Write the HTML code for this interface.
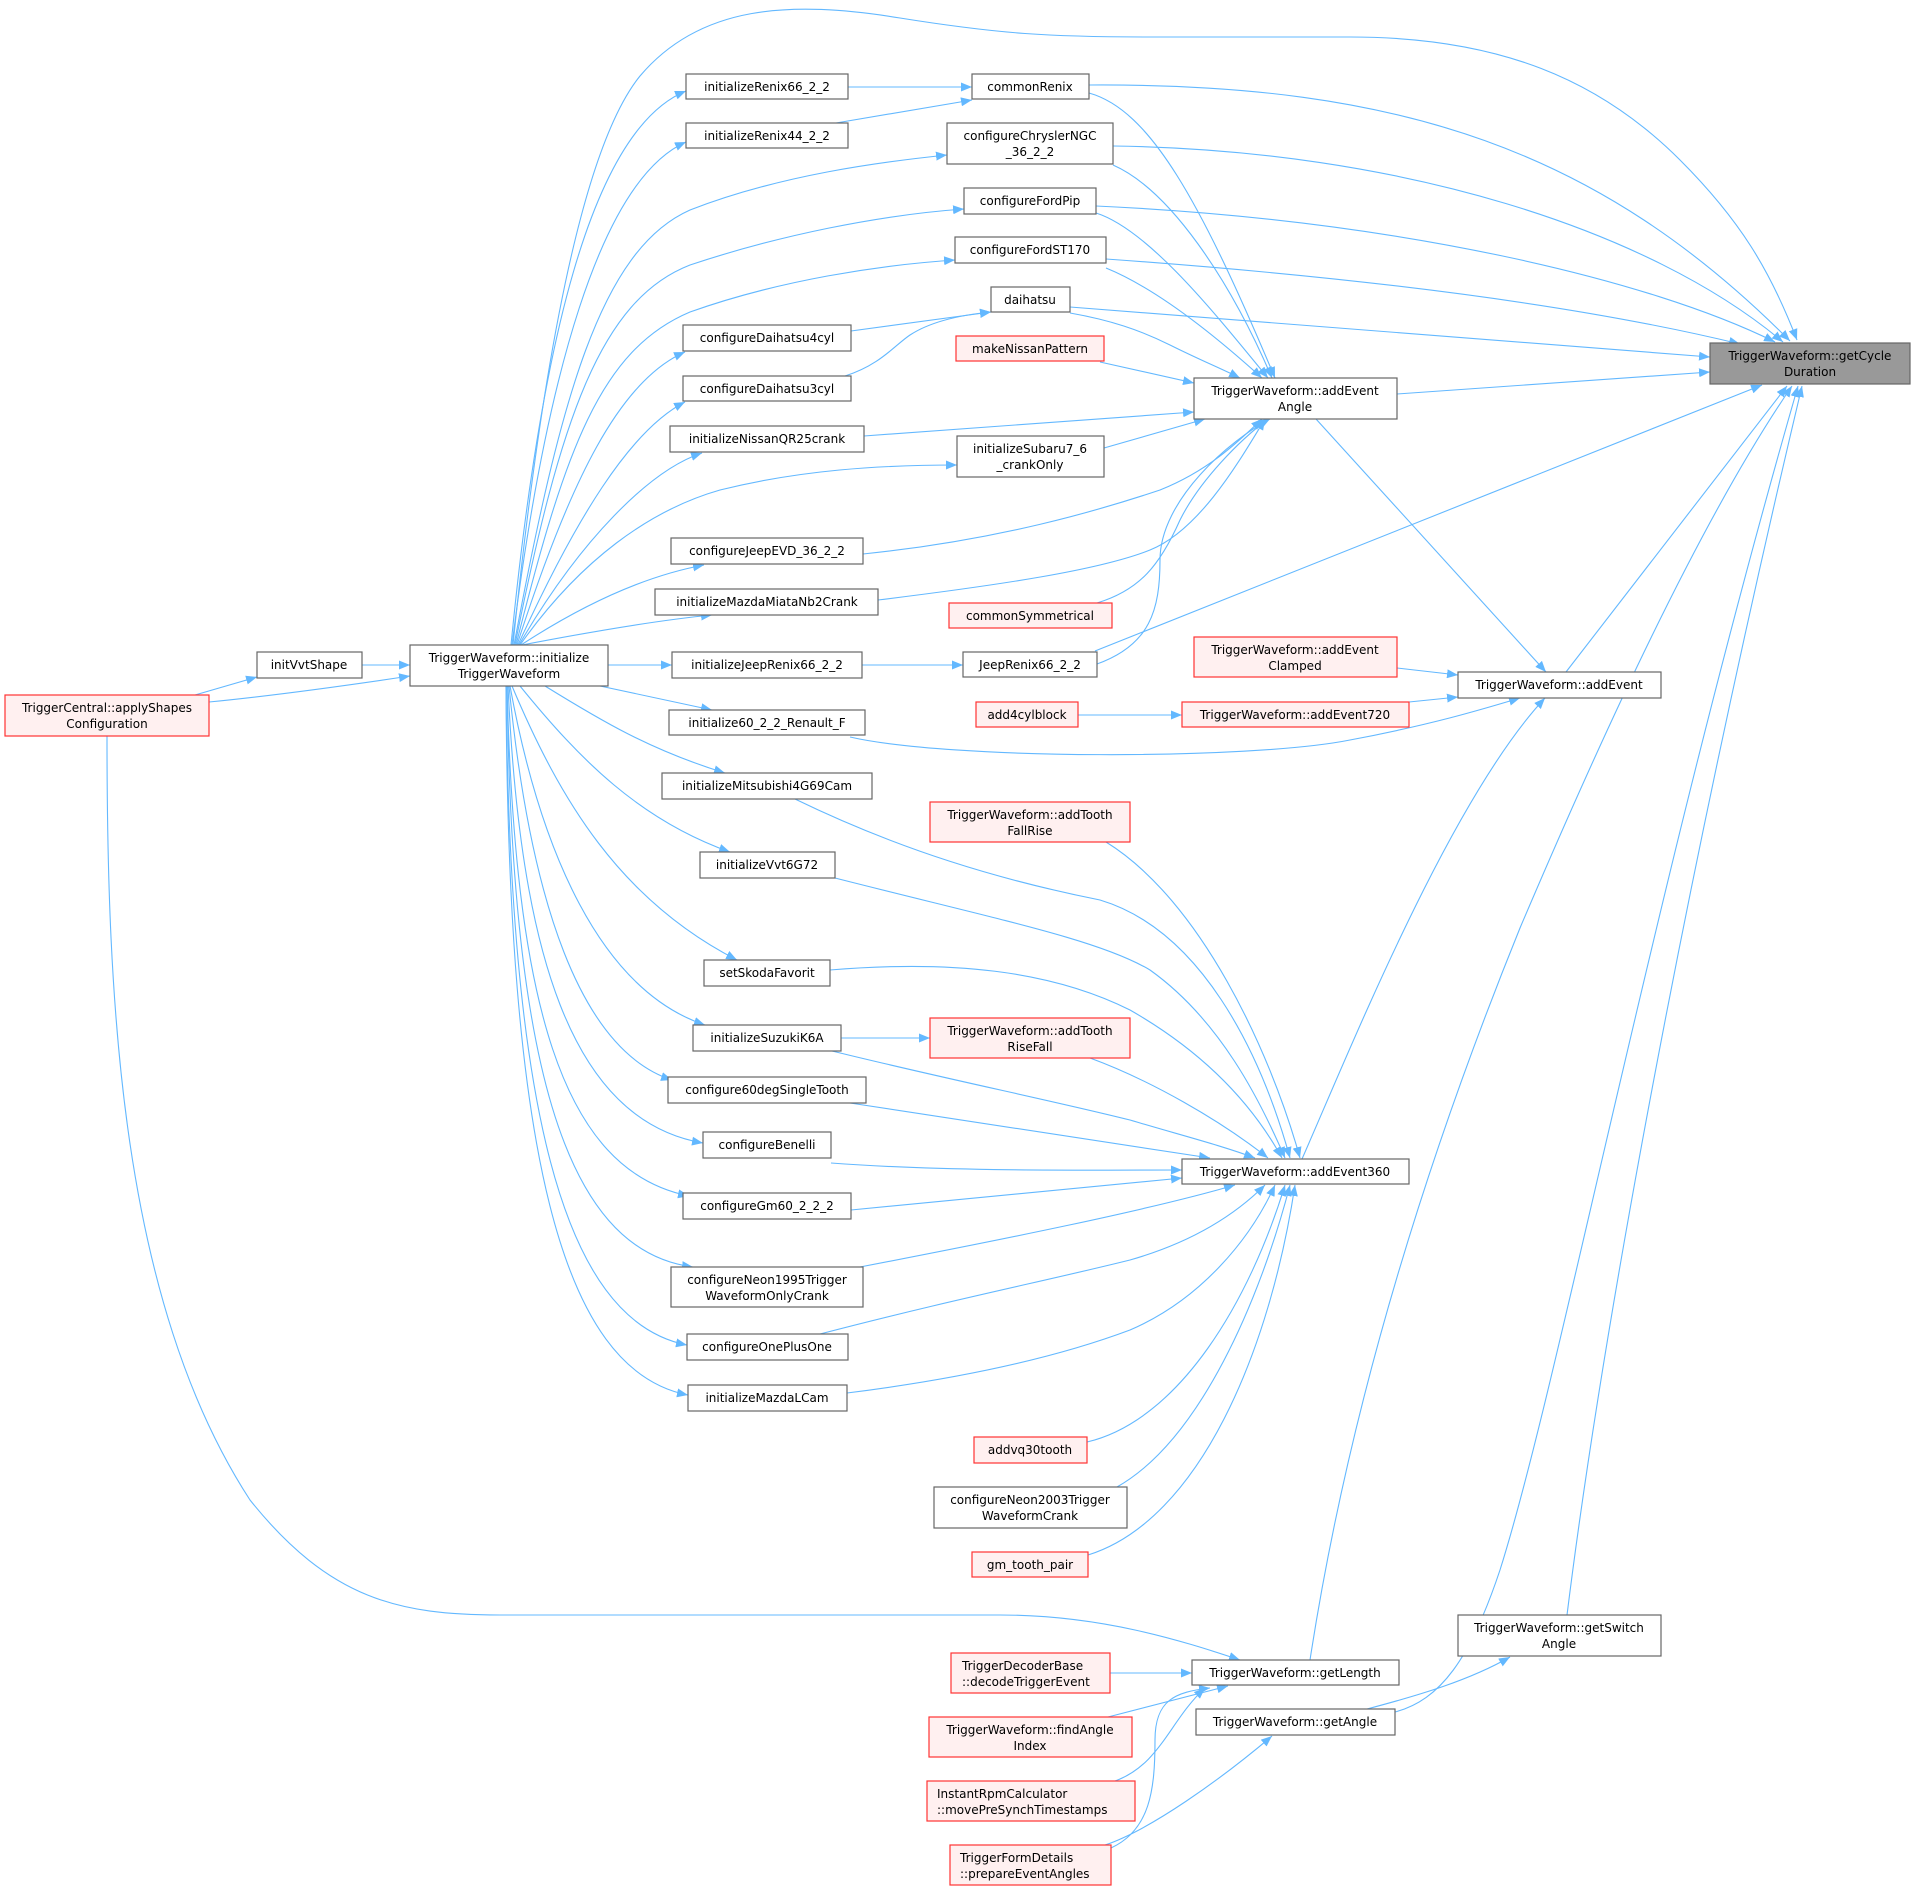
<!DOCTYPE html>
<html><head><meta charset="utf-8"><style>
html,body{margin:0;padding:0;background:#fff;}
svg{display:block;}
text{font-family:"DejaVu Sans","Liberation Sans",sans-serif;font-size:12px;fill:#000;}
.n{fill:#fff;stroke:#666;stroke-width:1.2;}
.r{fill:#fff0f0;stroke:#f33;stroke-width:1.2;}
.g{fill:#999;stroke:#666;stroke-width:1.2;}
path.e{fill:none;stroke:#63b8ff;stroke-width:1.1;marker-end:url(#a);}
</style></head><body>
<svg width="1915" height="1890" viewBox="0 0 1915 1890" xmlns="http://www.w3.org/2000/svg">
<defs><marker id="a" markerWidth="12" markerHeight="9" refX="11" refY="4.5" orient="auto" markerUnits="userSpaceOnUse"><path d="M0,0 L11,4.5 L0,9z" fill="#63b8ff"/></marker></defs>

<!-- edges -->
<g>
<path class="e" d="M513,645 C540,380 580,150 640,76 C700,5 790,0 900,18 C1000,34 1050,37 1150,37 L1350,37 C1500,37 1600,80 1680,160 C1740,220 1770,270 1797,340"/>
<path class="e" d="M511,645 C540,350 590,130 686,91"/>
<path class="e" d="M512,645 C545,380 600,180 686,142"/>
<path class="e" d="M514,645 C560,400 600,250 690,210 C780,175 880,162 947,155"/>
<path class="e" d="M515,645 C560,420 600,300 690,265 C780,235 880,215 964,209"/>
<path class="e" d="M516,645 C565,450 600,350 690,312 C780,280 880,265 955,260"/>
<path class="e" d="M517,645 C570,480 620,380 685,352"/>
<path class="e" d="M518,645 C575,520 630,430 685,402"/>
<path class="e" d="M519,645 C580,540 650,470 702,453"/>
<path class="e" d="M520,645 C580,560 650,510 720,490 C800,470 880,465 957,465"/>
<path class="e" d="M521,645 C590,600 650,575 704,565"/>
<path class="e" d="M522,645 C600,630 660,620 712,615"/>
<path class="e" d="M608,665 L672,665"/>
<path class="e" d="M600,686 L712,710"/>
<path class="e" d="M545,686 C600,720 650,750 725,773"/>
<path class="e" d="M520,686 C580,760 640,820 730,852"/>
<path class="e" d="M512,686 C560,800 620,900 737,960"/>
<path class="e" d="M510,686 C540,850 600,990 705,1025"/>
<path class="e" d="M509,686 C530,900 580,1050 672,1080"/>
<path class="e" d="M508,686 C520,950 570,1120 703,1143"/>
<path class="e" d="M507,686 C515,1000 560,1170 689,1196"/>
<path class="e" d="M507,686 C512,1050 560,1250 693,1267"/>
<path class="e" d="M506,686 C510,1100 560,1320 687,1345"/>
<path class="e" d="M506,686 C508,1150 560,1370 688,1395"/>

<path class="e" d="M195,695 L257,677"/>
<path class="e" d="M209,702 C280,695 350,685 410,676"/>
<path class="e" d="M362,665 L410,665"/>
<path class="e" d="M107,736 C107,1000 120,1300 250,1500 C330,1600 400,1615 500,1615 L1000,1615 C1100,1615 1180,1640 1240,1660"/>

<path class="e" d="M848,87 L972,87"/>
<path class="e" d="M836,123 L972,100"/>
<path class="e" d="M851,331 L991,312"/>
<path class="e" d="M845,376 C880,365 895,345 910,335 C930,322 960,315 991,312"/>
<path class="e" d="M862,665 L963,665"/>

<path class="e" d="M1089,93 C1150,110 1200,200 1275,378"/>
<path class="e" d="M1113,165 C1170,190 1230,280 1272,378"/>
<path class="e" d="M1096,213 C1150,230 1220,320 1268,378"/>
<path class="e" d="M1106,268 C1160,290 1220,340 1262,378"/>
<path class="e" d="M1070,313 C1110,320 1140,330 1170,345 C1200,360 1220,368 1240,378"/>
<path class="e" d="M1100,362 L1194,383"/>
<path class="e" d="M864,436 L1194,412"/>
<path class="e" d="M1104,448 L1205,419"/>
<path class="e" d="M863,554 C1000,540 1100,510 1160,490 C1210,470 1240,440 1262,419"/>
<path class="e" d="M878,600 C1000,585 1100,570 1150,550 C1200,530 1240,460 1265,419"/>
<path class="e" d="M1097,603 C1140,590 1160,565 1180,520 C1200,480 1240,440 1268,419"/>
<path class="e" d="M1097,664 C1150,645 1160,610 1160,560 C1160,500 1230,440 1270,419"/>

<path class="e" d="M1089,85 C1400,83 1600,150 1790,341"/>
<path class="e" d="M1113,146 C1400,150 1650,230 1783,342"/>
<path class="e" d="M1096,206 C1400,220 1650,280 1775,342"/>
<path class="e" d="M1106,259 C1400,280 1600,310 1740,344"/>
<path class="e" d="M1070,307 L1710,357"/>
<path class="e" d="M1397,394 L1710,372"/>
<path class="e" d="M1095,651 L1762,385"/>
<path class="e" d="M1566,672 L1787,386"/>
<path class="e" d="M1310,1660 C1350,1400 1430,1150 1520,928 C1600,740 1700,520 1792,386"/>
<path class="e" d="M1395,1712 C1440,1700 1470,1660 1500,1570 C1560,1380 1650,900 1798,386"/>
<path class="e" d="M1567,1615 C1600,1350 1680,900 1802,386"/>

<path class="e" d="M1316,419 L1546,672"/>
<path class="e" d="M1397,668 L1458,675"/>
<path class="e" d="M1409,702 L1458,697"/>
<path class="e" d="M1078,715 L1182,715"/>
<path class="e" d="M850,737 C950,760 1250,760 1350,740 C1430,725 1480,710 1520,698"/>
<path class="e" d="M1302,1159 C1350,1050 1450,800 1545,698"/>

<path class="e" d="M1106,842 C1200,900 1270,1050 1300,1158"/>
<path class="e" d="M795,799 C900,850 1000,880 1100,900 C1200,930 1260,1050 1290,1158"/>
<path class="e" d="M835,878 C1000,920 1100,940 1150,970 C1220,1020 1260,1100 1285,1158"/>
<path class="e" d="M830,970 C950,960 1050,970 1130,1010 C1200,1050 1250,1100 1282,1158"/>
<path class="e" d="M1090,1058 C1150,1080 1220,1120 1268,1158"/>
<path class="e" d="M832,1051 C950,1080 1050,1100 1130,1120 C1180,1135 1220,1145 1255,1158"/>
<path class="e" d="M850,1103 L1210,1158"/>
<path class="e" d="M831,1163 C950,1172 1100,1170 1182,1170"/>
<path class="e" d="M851,1210 L1182,1178"/>
<path class="e" d="M860,1267 C1000,1240 1150,1210 1235,1185"/>
<path class="e" d="M820,1334 C950,1300 1050,1280 1130,1260 C1200,1240 1240,1210 1265,1185"/>
<path class="e" d="M847,1393 C950,1380 1050,1360 1130,1330 C1200,1300 1250,1240 1275,1185"/>
<path class="e" d="M1087,1442 C1180,1420 1250,1300 1285,1185"/>
<path class="e" d="M1117,1487 C1200,1440 1260,1300 1290,1185"/>
<path class="e" d="M1088,1555 C1200,1520 1270,1350 1295,1185"/>
<path class="e" d="M841,1038 L930,1038"/>

<path class="e" d="M1110,1673 L1192,1673"/>
<path class="e" d="M1108,1717 L1228,1686"/>
<path class="e" d="M1115,1781 C1160,1765 1170,1720 1205,1688"/>
<path class="e" d="M1111,1848 C1150,1830 1155,1790 1155,1740 C1155,1700 1175,1692 1210,1688"/>
<path class="e" d="M1105,1845 C1150,1830 1220,1780 1272,1736"/>
<path class="e" d="M1367,1709 C1420,1695 1470,1680 1510,1657"/>
</g>

<!-- nodes -->
<g>
<rect class="g" x="1710" y="343" width="200" height="41"/><text x="1810" y="360" text-anchor="middle">TriggerWaveform::getCycle</text><text x="1810" y="376" text-anchor="middle">Duration</text>

<rect class="n" x="686" y="74" width="162" height="25"/><text x="767" y="91" text-anchor="middle">initializeRenix66_2_2</text>
<rect class="n" x="972" y="74" width="117" height="25"/><text x="1030" y="91" text-anchor="middle">commonRenix</text>
<rect class="n" x="686" y="123" width="162" height="25"/><text x="767" y="140" text-anchor="middle">initializeRenix44_2_2</text>
<rect class="n" x="947" y="123" width="166" height="41"/><text x="1030" y="140" text-anchor="middle">configureChryslerNGC</text><text x="1030" y="156" text-anchor="middle">_36_2_2</text>
<rect class="n" x="964" y="188" width="132" height="26"/><text x="1030" y="205" text-anchor="middle">configureFordPip</text>
<rect class="n" x="955" y="237" width="151" height="26"/><text x="1030" y="254" text-anchor="middle">configureFordST170</text>
<rect class="n" x="991" y="287" width="79" height="25"/><text x="1030" y="304" text-anchor="middle">daihatsu</text>
<rect class="n" x="683" y="325" width="168" height="26"/><text x="767" y="342" text-anchor="middle">configureDaihatsu4cyl</text>
<rect class="r" x="956" y="336" width="148" height="25"/><text x="1030" y="353" text-anchor="middle">makeNissanPattern</text>
<rect class="n" x="683" y="376" width="168" height="25"/><text x="767" y="393" text-anchor="middle">configureDaihatsu3cyl</text>
<rect class="n" x="1194" y="378" width="203" height="41"/><text x="1295" y="395" text-anchor="middle">TriggerWaveform::addEvent</text><text x="1295" y="411" text-anchor="middle">Angle</text>
<rect class="n" x="670" y="426" width="194" height="26"/><text x="767" y="443" text-anchor="middle">initializeNissanQR25crank</text>
<rect class="n" x="957" y="436" width="147" height="41"/><text x="1030" y="453" text-anchor="middle">initializeSubaru7_6</text><text x="1030" y="469" text-anchor="middle">_crankOnly</text>
<rect class="n" x="671" y="538" width="192" height="26"/><text x="767" y="555" text-anchor="middle">configureJeepEVD_36_2_2</text>
<rect class="n" x="655" y="589" width="223" height="26"/><text x="767" y="606" text-anchor="middle">initializeMazdaMiataNb2Crank</text>
<rect class="r" x="949" y="603" width="163" height="25"/><text x="1030" y="620" text-anchor="middle">commonSymmetrical</text>

<rect class="n" x="410" y="645" width="198" height="41"/><text x="509" y="662" text-anchor="middle">TriggerWaveform::initialize</text><text x="509" y="678" text-anchor="middle">TriggerWaveform</text>
<rect class="n" x="257" y="652" width="105" height="26"/><text x="309" y="669" text-anchor="middle">initVvtShape</text>
<rect class="r" x="5" y="695" width="204" height="41"/><text x="107" y="712" text-anchor="middle">TriggerCentral::applyShapes</text><text x="107" y="728" text-anchor="middle">Configuration</text>
<rect class="n" x="672" y="652" width="190" height="26"/><text x="767" y="669" text-anchor="middle">initializeJeepRenix66_2_2</text>
<rect class="n" x="963" y="652" width="134" height="25"/><text x="1030" y="669" text-anchor="middle">JeepRenix66_2_2</text>
<rect class="r" x="1194" y="637" width="203" height="40"/><text x="1295" y="654" text-anchor="middle">TriggerWaveform::addEvent</text><text x="1295" y="670" text-anchor="middle">Clamped</text>
<rect class="n" x="1458" y="672" width="203" height="26"/><text x="1559" y="689" text-anchor="middle">TriggerWaveform::addEvent</text>
<rect class="r" x="976" y="702" width="102" height="25"/><text x="1027" y="719" text-anchor="middle">add4cylblock</text>
<rect class="r" x="1182" y="702" width="227" height="25"/><text x="1295" y="719" text-anchor="middle">TriggerWaveform::addEvent720</text>
<rect class="n" x="669" y="710" width="196" height="25"/><text x="767" y="727" text-anchor="middle">initialize60_2_2_Renault_F</text>
<rect class="n" x="662" y="773" width="210" height="26"/><text x="767" y="790" text-anchor="middle">initializeMitsubishi4G69Cam</text>
<rect class="r" x="930" y="802" width="200" height="40"/><text x="1030" y="819" text-anchor="middle">TriggerWaveform::addTooth</text><text x="1030" y="835" text-anchor="middle">FallRise</text>
<rect class="n" x="700" y="852" width="135" height="26"/><text x="767" y="869" text-anchor="middle">initializeVvt6G72</text>
<rect class="n" x="704" y="960" width="126" height="26"/><text x="767" y="977" text-anchor="middle">setSkodaFavorit</text>
<rect class="n" x="693" y="1025" width="148" height="26"/><text x="767" y="1042" text-anchor="middle">initializeSuzukiK6A</text>
<rect class="r" x="930" y="1018" width="200" height="40"/><text x="1030" y="1035" text-anchor="middle">TriggerWaveform::addTooth</text><text x="1030" y="1051" text-anchor="middle">RiseFall</text>
<rect class="n" x="668" y="1077" width="198" height="26"/><text x="767" y="1094" text-anchor="middle">configure60degSingleTooth</text>
<rect class="n" x="703" y="1132" width="128" height="26"/><text x="767" y="1149" text-anchor="middle">configureBenelli</text>
<rect class="n" x="683" y="1193" width="168" height="26"/><text x="767" y="1210" text-anchor="middle">configureGm60_2_2_2</text>
<rect class="n" x="1182" y="1159" width="227" height="25"/><text x="1295" y="1176" text-anchor="middle">TriggerWaveform::addEvent360</text>
<rect class="n" x="671" y="1267" width="192" height="40"/><text x="767" y="1284" text-anchor="middle">configureNeon1995Trigger</text><text x="767" y="1300" text-anchor="middle">WaveformOnlyCrank</text>
<rect class="n" x="687" y="1334" width="161" height="26"/><text x="767" y="1351" text-anchor="middle">configureOnePlusOne</text>
<rect class="n" x="688" y="1385" width="159" height="26"/><text x="767" y="1402" text-anchor="middle">initializeMazdaLCam</text>
<rect class="r" x="974" y="1437" width="113" height="26"/><text x="1030" y="1454" text-anchor="middle">addvq30tooth</text>
<rect class="n" x="934" y="1487" width="193" height="41"/><text x="1030" y="1504" text-anchor="middle">configureNeon2003Trigger</text><text x="1030" y="1520" text-anchor="middle">WaveformCrank</text>
<rect class="r" x="972" y="1552" width="116" height="25"/><text x="1030" y="1569" text-anchor="middle">gm_tooth_pair</text>
<rect class="n" x="1458" y="1615" width="203" height="41"/><text x="1559" y="1632" text-anchor="middle">TriggerWaveform::getSwitch</text><text x="1559" y="1648" text-anchor="middle">Angle</text>
<rect class="n" x="1192" y="1660" width="207" height="25"/><text x="1295" y="1677" text-anchor="middle">TriggerWaveform::getLength</text>
<rect class="n" x="1196" y="1709" width="199" height="26"/><text x="1295" y="1726" text-anchor="middle">TriggerWaveform::getAngle</text>
<rect class="r" x="951" y="1653" width="159" height="40"/><text x="962" y="1670">TriggerDecoderBase</text><text x="962" y="1686">::decodeTriggerEvent</text>
<rect class="r" x="929" y="1717" width="203" height="40"/><text x="1030" y="1734" text-anchor="middle">TriggerWaveform::findAngle</text><text x="1030" y="1750" text-anchor="middle">Index</text>
<rect class="r" x="927" y="1781" width="208" height="40"/><text x="937" y="1798">InstantRpmCalculator</text><text x="937" y="1814">::movePreSynchTimestamps</text>
<rect class="r" x="950" y="1845" width="161" height="40"/><text x="960" y="1862">TriggerFormDetails</text><text x="960" y="1878">::prepareEventAngles</text>
</g>
</svg>
</body></html>
